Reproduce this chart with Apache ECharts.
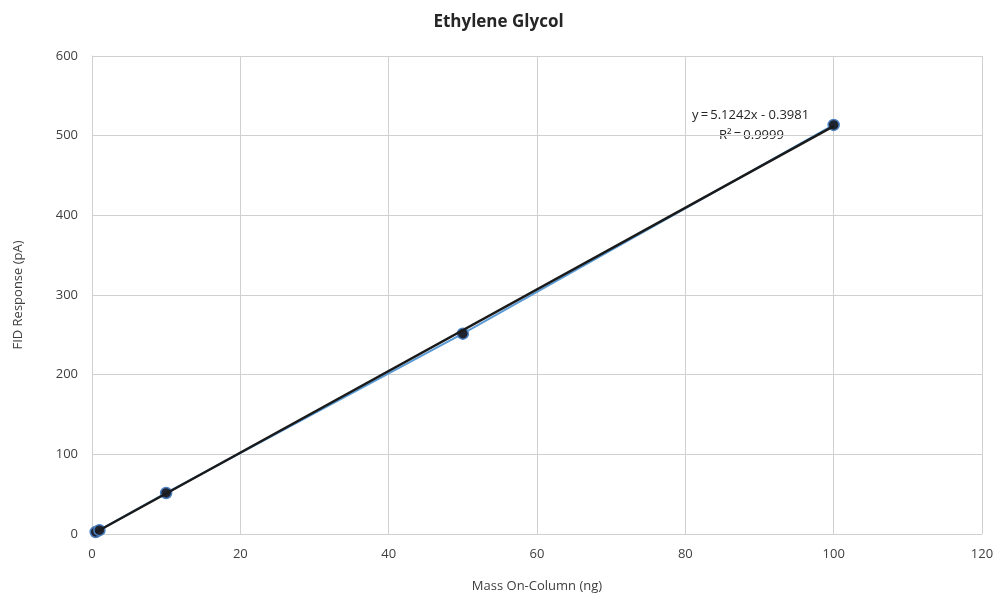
<!DOCTYPE html>
<html>
<head>
<meta charset="utf-8">
<script src="https://cdn.jsdelivr.net/npm/echarts@6/dist/echarts.min.js"></script>
<style>html,body{margin:0;padding:0;background:#fff}#c{width:997px;height:598px}</style>
</head>
<body>
<div id="c"></div>
<script>
const massValues = [0.5, 1, 10, 50, 100];
const responseValues = [2.5, 4.8, 51.5, 251.5, 513.5];
const trendSlope = 5.1242;
const trendIntercept = -0.3981;
const trendText = ['y\u2009=\u20095.1242x - 0.3981', 'R\u00b2\u2009=\u20090.9999'];
const xTicks = [0, 20, 40, 60, 80, 100, 120];
const yTicks = [0, 100, 200, 300, 400, 500, 600];

const pts = massValues.map((x, i) => [x, responseValues[i]]);
const xs = [massValues[0], massValues[massValues.length - 1]];
const trend = xs.map(x => [x, trendSlope * x + trendIntercept]);

const font = 'Open Sans, Lato, sans-serif';
const chart = echarts.init(document.getElementById('c'), null, {renderer: 'canvas'});
chart.setOption({
  animation: false,
  title: {text: 'Ethylene Glycol', left: 'center', top: 9,
    textStyle: {fontFamily: font, fontSize: 17, fontWeight: 'bold', color: '#262626'}},
  grid: {left: 92, right: 15, top: 56, bottom: 64},
  xAxis: {type: 'value', min: xTicks[0], max: xTicks[xTicks.length - 1], interval: 20,
    name: 'Mass On-Column (ng)', nameLocation: 'middle', nameGap: 46,
    nameTextStyle: {fontFamily: font, fontSize: 13, color: '#404040'},
    axisLine: {show: true, lineStyle: {color: '#d0d0d0'}}, axisTick: {show: false},
    axisLabel: {fontFamily: font, fontSize: 13, color: '#404040', margin: 14},
    splitLine: {show: true, lineStyle: {color: '#d0d0d0', width: 1}}},
  yAxis: {type: 'value', min: yTicks[0], max: yTicks[yTicks.length - 1], interval: 100,
    name: 'FID Response (pA)', nameLocation: 'middle', nameGap: 67,
    nameTextStyle: {fontFamily: font, fontSize: 13, color: '#404040'},
    axisLine: {show: true, lineStyle: {color: '#d0d0d0'}}, axisTick: {show: false},
    axisLabel: {fontFamily: font, fontSize: 13, color: '#404040', margin: 14},
    splitLine: {show: true, lineStyle: {color: '#d0d0d0', width: 1}}},
  series: [
    {type: 'line', data: pts, symbol: 'circle', symbolSize: 11,
      lineStyle: {color: '#5b9bd5', width: 2},
      itemStyle: {color: '#1f2430', borderColor: '#4a7fc0', borderWidth: 1.5}, z: 3},
    {type: 'line', data: trend, symbol: 'none', lineStyle: {color: '#1a1a1a', width: 2.5}, z: 4}
  ],
  graphic: [
    {type: 'text', left: 692, top: 109, style: {text: trendText[0], fontFamily: font, fontSize: 13, fill: '#262626'}},
    {type: 'text', left: 719, top: 129, style: {text: trendText[1], fontFamily: font, fontSize: 13, fill: '#262626'}}
  ]
});
</script>
</body>
</html>
